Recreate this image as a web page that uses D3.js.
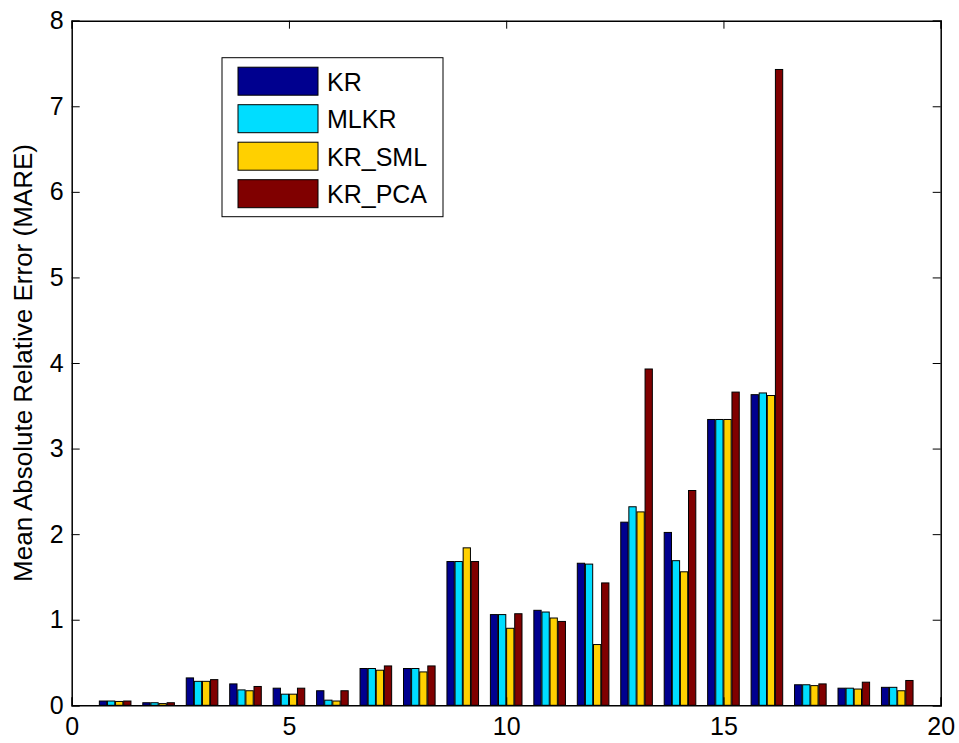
<!DOCTYPE html>
<meta charset="utf-8">
<script src="https://d3js.org/d3.v7.min.js"></script>
<style>
	body { margin: 0; background: #fff; }
	text { font-family: "Liberation Sans", Arial, sans-serif; fill: #000; }
</style>
<div id="chart"></div>
<script>
	// Data
	var groups = d3.range(1, 20);
	var series = ["KR", "MLKR", "KR_SML", "KR_PCA"];
	var colors = ["#00008f", "#00ddff", "#ffd000", "#800000"];
	var kr     = [0.05, 0.03, 0.32, 0.25, 0.20, 0.17, 0.43, 0.43, 1.68, 1.06, 1.11, 1.66, 2.14, 2.02, 3.34, 3.63, 0.24, 0.20, 0.21];
	var mlkr   = [0.05, 0.03, 0.28, 0.18, 0.13, 0.06, 0.43, 0.43, 1.68, 1.06, 1.09, 1.65, 2.32, 1.69, 3.34, 3.65, 0.24, 0.20, 0.21];
	var kr_sml = [0.045, 0.02, 0.28, 0.17, 0.13, 0.05, 0.41, 0.39, 1.84, 0.90, 1.02, 0.71, 2.26, 1.56, 3.34, 3.62, 0.23, 0.19, 0.17];
	var kr_pca = [0.05, 0.03, 0.30, 0.22, 0.20, 0.17, 0.46, 0.46, 1.68, 1.07, 0.98, 1.43, 3.93, 2.51, 3.66, 7.43, 0.25, 0.27, 0.29];
	var values = [kr, mlkr, kr_sml, kr_pca];
	var xTicks = [0, 5, 10, 15, 20];
	var yTicks = [0, 1, 2, 3, 4, 5, 6, 7, 8];

	var width = 959, height = 743;
	var m_left = 71.7, m_right = 940.7, m_top = 20.7, m_bottom = 705.3;
	var tick_len = 8;

	var svg = d3.select("#chart").append("svg")
		.attr("width", width)
		.attr("height", height);

	var x = d3.scaleLinear().domain([0, 20]).range([m_left, m_right]);
	var y = d3.scaleLinear().domain([0, 8]).range([m_bottom, m_top]);

	// MATLAB group width for 4 series: 4/5.5 of a unit
	var gw = (x(1) - x(0)) * 4 / 5.5;
	var inner = d3.scaleBand().domain(series).range([-gw / 2, gw / 2]).paddingInner(0.1);

	// Bars
	series.forEach(function(s, si) {
		svg.append("g").selectAll("rect")
			.data(groups)
			.enter().append("rect")
			.attr("x", (g) => x(g) + inner(s))
			.attr("width", inner.bandwidth())
			.attr("y", (g, i) => y(values[si][i]))
			.attr("height", (g, i) => y(0) - y(values[si][i]))
			.style("fill", colors[si])
			.style("stroke", "#000")
			.style("stroke-width", 1);
	});

	// Axes, ticks pointing inwards on all four sides
	svg.append("g")
		.attr("transform", "translate(0," + m_bottom + ")")
		.call(d3.axisBottom(x).tickValues(xTicks).tickSize(-tick_len).tickPadding(12).tickFormat(d3.format("d")));
	svg.append("g")
		.attr("transform", "translate(0," + m_top + ")")
		.call(d3.axisTop(x).tickValues(xTicks).tickSize(-tick_len).tickFormat(""));
	svg.append("g")
		.attr("transform", "translate(" + m_left + ",0)")
		.call(d3.axisLeft(y).tickValues(yTicks).tickSize(-tick_len).tickPadding(8).tickFormat(d3.format("d")));
	svg.append("g")
		.attr("transform", "translate(" + m_right + ",0)")
		.call(d3.axisRight(y).tickValues(yTicks).tickSize(-tick_len).tickFormat(""));

	svg.selectAll(".domain").style("stroke", "#000").style("stroke-width", 1.5);
	svg.selectAll(".tick line").style("stroke", "#000").style("stroke-width", 1);
	svg.selectAll(".tick text")
		.style("font-size", "25px")
		.style("font-family", "Liberation Sans, Arial, sans-serif");

	// Y label
	svg.append("text")
		.attr("transform", "translate(32," + ((m_top + m_bottom) / 2) + ") rotate(-90)")
		.attr("text-anchor", "middle")
		.style("font-size", "26px")
		.text("Mean Absolute Relative Error (MARE)");

	// Legend
	var legend = svg.append("g").attr("transform", "translate(222,57.7)");
	legend.append("rect")
		.attr("width", 221)
		.attr("height", 159)
		.style("fill", "#fff")
		.style("stroke", "#000")
		.style("stroke-width", 1);
	var item = legend.selectAll(".item")
		.data(series)
		.enter().append("g")
		.attr("transform", (d, i) => "translate(16," + (9.5 + i * 37.5) + ")");
	item.append("rect")
		.attr("width", 80)
		.attr("height", 28)
		.style("fill", (d, i) => colors[i])
		.style("stroke", "#000")
		.style("stroke-width", 1);
	item.append("text")
		.attr("x", 89)
		.attr("y", 23.5)
		.style("font-size", "25px")
		.text((d) => d);
</script>
